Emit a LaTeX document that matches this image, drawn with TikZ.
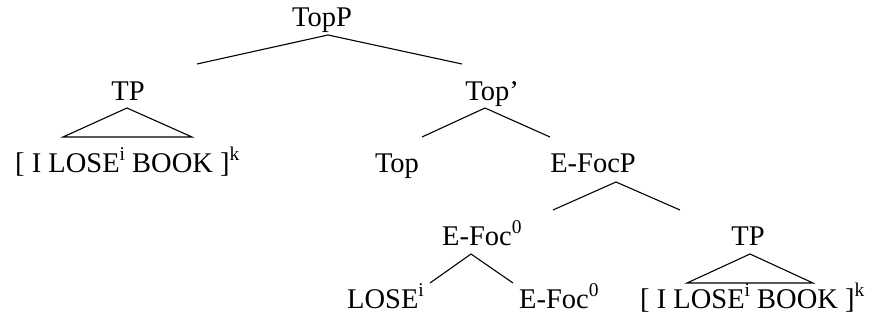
\documentclass[tikz,border=0pt]{standalone}
\usepackage{fontspec}
\setmainfont{Liberation Serif}
\newcommand{\sps}[1]{\raisebox{12pt}{\fontsize{19.5}{19.5}\selectfont #1}}
\begin{document}
\begin{tikzpicture}[x=1pt,y=-1pt,
  lab/.style={anchor=base, inner sep=0pt, font=\fontsize{28.5}{32}\selectfont},
  labw/.style={lab, anchor=base west},
  br/.style={line width=1.1pt}]
\useasboundingbox (0,0) rectangle (885,326);
% labels
\node[lab] (topp) at (322,27) {TopP};
\node[lab] (tpl) at (128,100) {TP};
\node[labw] (brl) at (15,172) {[ I LOSE\sps{i} BOOK ]\sps{k}};
\node[lab] (topbar) at (492,100) {Top'};
\node[lab] (top) at (397,172) {Top};
\node[lab] (efocp) at (593,172) {E-FocP};
\node[labw] (efoc) at (442,245) {E-Foc\sps{0}};
\node[lab] (tpr) at (748,245) {TP};
\node[labw] (lose) at (347,308) {LOSE\sps{i}};
\node[labw] (efocb) at (519,308) {E-Foc\sps{0}};
\node[labw] (brr) at (640,308) {[ I LOSE\sps{i} BOOK ]\sps{k}};
% branch points
\coordinate (a0) at (328,35); \coordinate (a0l) at (197,64); \coordinate (a0r) at (462,64);
\coordinate (t1) at (127,108); \coordinate (t1l) at (63,137); \coordinate (t1r) at (192,137);
\coordinate (a1) at (485,108); \coordinate (a1l) at (422,137); \coordinate (a1r) at (550,137);
\coordinate (a2) at (616,182); \coordinate (a2l) at (553,210); \coordinate (a2r) at (680,210);
\coordinate (a3) at (471,254); \coordinate (a3l) at (430,283); \coordinate (a3r) at (513,283);
\coordinate (t2) at (750,254); \coordinate (t2l) at (687,283); \coordinate (t2r) at (813,283);
% branches
\draw[br] (a0l) -- (a0) -- (a0r);
\draw[br] (t1) -- (t1l) -- (t1r) -- cycle;
\draw[br] (a1l) -- (a1) -- (a1r);
\draw[br] (a2l) -- (a2) -- (a2r);
\draw[br] (a3l) -- (a3) -- (a3r);
\draw[br] (t2) -- (t2l) -- (t2r) -- cycle;
\end{tikzpicture}
\end{document}
